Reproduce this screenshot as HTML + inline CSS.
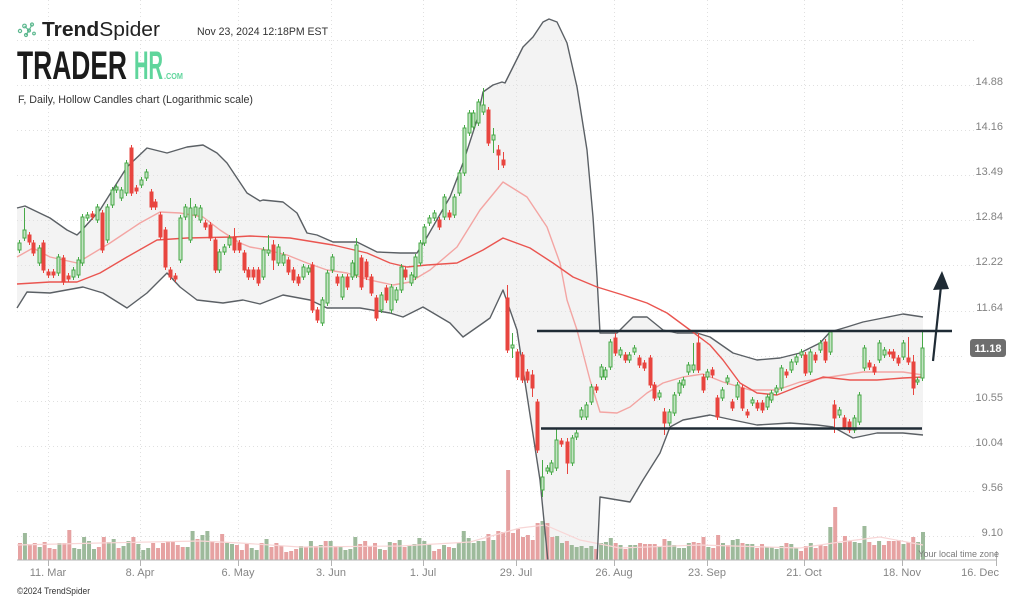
<!DOCTYPE html>
<html><head><meta charset="utf-8">
<style>
html,body{margin:0;padding:0;background:#fff;}
body{width:1024px;height:599px;overflow:hidden;}
svg{display:block;font-family:"Liberation Sans",Arial,sans-serif;}
</style></head><body>
<svg id="s" width="1024" height="599" viewBox="0 0 1024 599" xmlns="http://www.w3.org/2000/svg">
<defs><clipPath id="pc"><rect x="0" y="0" width="1000" height="560"/></clipPath></defs>

<g clip-path="url(#pc)">
  <polygon id="band" fill="#f3f3f3" stroke="none"/>
</g>

<g id="grid" stroke="#e0e0e0" stroke-width="1" stroke-dasharray="1,3" fill="none">
  <line x1="17" y1="40.5" x2="975" y2="40.5"/>
  <line x1="17" y1="85.5" x2="975" y2="85.5"/>
  <line x1="17" y1="130.5" x2="975" y2="130.5"/>
  <line x1="17" y1="175.5" x2="975" y2="175.5"/>
  <line x1="17" y1="220.5" x2="975" y2="220.5"/>
  <line x1="17" y1="265.5" x2="975" y2="265.5"/>
  <line x1="17" y1="311.5" x2="975" y2="311.5"/>
  <line x1="17" y1="356.5" x2="965" y2="356.5"/>
  <line x1="17" y1="401.5" x2="975" y2="401.5"/>
  <line x1="17" y1="446.5" x2="975" y2="446.5"/>
  <line x1="17" y1="491.5" x2="975" y2="491.5"/>
  <line x1="17" y1="536.5" x2="975" y2="536.5"/>
  <line x1="48.5" y1="0" x2="48.5" y2="560"/>
  <line x1="140.5" y1="0" x2="140.5" y2="560"/>
  <line x1="238.5" y1="0" x2="238.5" y2="560"/>
  <line x1="331.5" y1="0" x2="331.5" y2="560"/>
  <line x1="423.5" y1="0" x2="423.5" y2="560"/>
  <line x1="516.5" y1="0" x2="516.5" y2="560"/>
  <line x1="614.5" y1="0" x2="614.5" y2="560"/>
  <line x1="707.5" y1="0" x2="707.5" y2="560"/>
  <line x1="804.5" y1="0" x2="804.5" y2="560"/>
  <line x1="902.5" y1="0" x2="902.5" y2="560"/>
</g>

<g clip-path="url(#pc)">
  <g id="vol"></g>
  <polyline id="vma" fill="none" stroke="#f8d6d6" stroke-width="1.2"/>
  <polyline id="up" fill="none" stroke="#5b6065" stroke-width="1.4" stroke-linejoin="round"/>
  <polyline id="lo" fill="none" stroke="#5b6065" stroke-width="1.4" stroke-linejoin="round"/>
  <polyline id="ma20" fill="none" stroke="#f3a5a3" stroke-width="1.4" stroke-linejoin="round"/>
  <polyline id="ma50" fill="none" stroke="#ea5550" stroke-width="1.4" stroke-linejoin="round"/>
  <g id="cdl"></g>
</g>

<!-- x axis -->
<line x1="17" y1="560" x2="997" y2="560" stroke="#b3b3b3" stroke-width="1"/>
<g stroke="#b3b3b3" stroke-width="1">
  <line x1="48.5" y1="560" x2="48.5" y2="566"/>
  <line x1="140.5" y1="560" x2="140.5" y2="566"/>
  <line x1="238.5" y1="560" x2="238.5" y2="566"/>
  <line x1="331.5" y1="560" x2="331.5" y2="566"/>
  <line x1="423.5" y1="560" x2="423.5" y2="566"/>
  <line x1="516.5" y1="560" x2="516.5" y2="566"/>
  <line x1="614.5" y1="560" x2="614.5" y2="566"/>
  <line x1="707.5" y1="560" x2="707.5" y2="566"/>
  <line x1="804.5" y1="560" x2="804.5" y2="566"/>
  <line x1="902.5" y1="560" x2="902.5" y2="566"/>
  <line x1="996.5" y1="551" x2="996.5" y2="566"/>
</g>
<g font-size="11" fill="#858585" text-anchor="middle">
  <text x="48" y="576">11. Mar</text>
  <text x="140" y="576">8. Apr</text>
  <text x="238" y="576">6. May</text>
  <text x="331" y="576">3. Jun</text>
  <text x="423" y="576">1. Jul</text>
  <text x="516" y="576">29. Jul</text>
  <text x="614" y="576">26. Aug</text>
  <text x="707" y="576">23. Sep</text>
  <text x="804" y="576">21. Oct</text>
  <text x="902" y="576">18. Nov</text>
  <text x="999" y="576" text-anchor="end">16. Dec</text>
</g>
<text x="999" y="557" font-size="9" fill="#7a7a7a" text-anchor="end">Your local time zone</text>

<!-- y axis labels -->
<g font-size="11" fill="#828282" text-anchor="end">
  <text x="1003" y="85">14.88</text>
  <text x="1003" y="130">14.16</text>
  <text x="1003" y="175">13.49</text>
  <text x="1003" y="220">12.84</text>
  <text x="1003" y="265">12.22</text>
  <text x="1003" y="311">11.64</text>
  <text x="1003" y="401">10.55</text>
  <text x="1003" y="446">10.04</text>
  <text x="1003" y="491">9.56</text>
  <text x="1003" y="536">9.10</text>
</g>
<rect x="970" y="339" width="36" height="18" rx="3" ry="3" fill="#6e6e6e"/>
<text x="988" y="352" font-size="11" font-weight="bold" fill="#ffffff" text-anchor="middle">11.18</text>

<!-- annotations -->
<line x1="537" y1="331" x2="952" y2="331" stroke="#1f2b35" stroke-width="2.5"/>
<line x1="541" y1="428.5" x2="922" y2="428.5" stroke="#1f2b35" stroke-width="2.5"/>
<line x1="933" y1="361" x2="941" y2="286" stroke="#1f2b35" stroke-width="2.2"/>
<polygon points="942,271 933,290 949,289" fill="#1f2b35"/>

<!-- header -->
<g fill="none" stroke="#5cb88f" stroke-width="1.2">
  <circle cx="20" cy="31" r="1.6"/>
  <circle cx="24.5" cy="26" r="1.8"/>
  <circle cx="29" cy="30.5" r="1.5"/>
  <circle cx="32" cy="24.5" r="1.5"/>
  <circle cx="26" cy="35" r="1.5"/>
  <circle cx="34" cy="33.5" r="1.3"/>
  <line x1="24.5" y1="26" x2="29" y2="30.5"/>
  <line x1="29" y1="30.5" x2="32" y2="24.5"/>
  <line x1="29" y1="30.5" x2="26" y2="35"/>
</g>
<text x="42" y="36" font-size="20" fill="#222" textLength="118" lengthAdjust="spacingAndGlyphs"><tspan font-weight="bold">Trend</tspan>Spider</text>
<text x="197" y="35" font-size="11" fill="#333" textLength="131" lengthAdjust="spacingAndGlyphs">Nov 23, 2024 12:18PM EST</text>
<text x="17" y="79" font-size="40" font-weight="bold" fill="#1b1b1b" textLength="110" lengthAdjust="spacingAndGlyphs">TRADER</text>
<text x="134" y="79" font-size="40" font-weight="bold" fill="#5fd59c" textLength="29" lengthAdjust="spacingAndGlyphs">HR</text>
<text x="164" y="79" font-size="8" font-weight="bold" fill="#5fd59c" textLength="19" lengthAdjust="spacingAndGlyphs">.COM</text>
<text x="18" y="103" font-size="11" fill="#333" textLength="235" lengthAdjust="spacingAndGlyphs">F, Daily, Hollow Candles chart (Logarithmic scale)</text>
<text x="17" y="594" font-size="9" fill="#333" textLength="73" lengthAdjust="spacingAndGlyphs">©2024 TrendSpider</text>
</svg>
<script>
(function(){
var NS="http://www.w3.org/2000/svg";
function el(tag,a,p){var e=document.createElementNS(NS,tag);for(var k in a)e.setAttribute(k,a[k]);p.appendChild(e);return e;}
function pts(a){var s=[];for(var i=0;i<a.length;i+=2)s.push(a[i]+","+a[i+1]);return s;}
var UP=[17,208,25,206,50,218,67,230,77,235,82,230,100,210,127,167,147,148,167,153,187,147,203,145,217,153,227,163,247,193,260,201,263,200,283,202,297,213,307,233,317,235,333,242,357,242,377,252,400,253,417,253,427,237,450,197,463,163,477,120,483,92,493,85,502,82,505,83,513,67,523,47,533,37,543,22,549,19,557,22,567,43,577,87,587,150,593,217,597,277,600,333,617,333,633,317,647,317,663,330,677,333,697,333,710,337,733,353,757,360,780,358,800,353,820,343,830,332,847,327,863,322,883,318,903,314,923,317];
var LO=[17,308,27,292,50,293,83,287,103,293,127,308,147,293,167,273,180,287,197,300,223,303,243,300,260,304,283,295,310,300,327,308,360,308,390,313,403,317,423,307,450,323,463,337,483,323,490,318,503,290,517,330,540,480,548,562,552,600,594,600,597,562,600,497,630,502,643,480,660,453,670,427,683,420,710,415,733,420,757,425,790,423,817,425,833,427,853,438,877,433,903,433,923,435];
var M20=[17,257,33,248,50,257,77,263,110,243,140,223,160,212,180,213,203,217,220,230,240,243,250,247,267,250,287,255,307,263,327,270,347,273,370,280,393,285,410,282,430,270,457,247,480,210,503,182,527,197,547,227,560,263,567,300,577,330,590,380,600,412,617,413,630,407,647,393,663,383,683,377,703,374,723,382,750,390,777,390,800,382,830,377,863,372,903,372,923,375];
var M50=[17,284,50,282,77,282,100,273,127,257,157,240,187,238,233,237,250,236,290,238,333,245,367,253,390,263,407,267,427,265,457,263,483,250,503,238,530,248,553,263,573,277,597,287,623,295,647,303,667,313,690,330,710,345,723,360,740,383,757,393,777,395,797,387,823,377,850,380,877,380,903,378,923,377];
var VMA=[17,545,100,543,200,541,240,543,300,547,400,546,470,542,520,528,545,525,580,540,620,548,700,545,800,548,840,542,880,537,923,545];
var up=pts(UP), lo=pts(LO);
document.getElementById('band').setAttribute('points',up.concat(lo.slice().reverse()).join(' '));
document.getElementById('up').setAttribute('points',up.join(' '));
document.getElementById('lo').setAttribute('points',lo.join(' '));
document.getElementById('ma20').setAttribute('points',pts(M20).join(' '));
document.getElementById('ma50').setAttribute('points',pts(M50).join(' '));
document.getElementById('vma').setAttribute('points',pts(VMA).join(' '));

var vg=document.getElementById('vol');
var VA="r543 g533 r544 r543 g547 r542 r548 r549 g543 r543 r530 g548 g549 g537 g541 g549 r547 r537 g542 g539 r548 g546 g541 r537 g544 g550 g548 r543 r548 r543 r541 r541 r545 r547 g547 g531 r539 g535 g531 r541 r543 r534 g543 g544 r545 r550 r544 g548 g550 r543 g539 r547 r543 r546 r552 r551 r549 g546 r547 g541 r546 g545 r541 g541 r546 g546 g550 g549 g537 r544 r541 r546 r543 g549 r550 g542 r543 g540 r547 g546 g544 g538 g541 g544 r551 r549 g545 r547 g548 g543 g531 g538 g543 g541 g541 r534 g540 r531 r532 r470 r533 r529".split(" ");
var VB="r537 r535 r540 r523 g521 r523 r537 g536 g543 r541 g545 g547 g546 g548 g546 r549 g543 g542 g538 r543 g545 r549 g545 g545 r543 r544 r544 r544 g547 r539 g541 g545 g548 g548 g543 r542 r543 r537 g547 r548 r535 g543 r545 g540 g539 r543 g544 g544 r548 r544 g547 g547 g549 g546 r543 g544 g548 r551 r546 g543 r548 r545 r546 g527 r507 g543 r536 r541 g542 g543 g526 r542 r545 g541 r545 r541 r541 r540 g544 r542 r537 g542 g532".split(" ");
function vbar(x,s){var c=s[0],t=parseFloat(s.slice(1));el('rect',{x:(x-2).toFixed(2),y:t,width:4,height:560-t,fill:c=='g'?'#9dba9b':'#e6a2a2'},vg);}
var stepA=(518-20)/(VA.length-1);
VA.forEach(function(s,i){vbar(20+i*stepA,s);});
var stepB=(923-523)/(VB.length-1);
VB.forEach(function(s,i){vbar(523+i*stepB,s);});

var C=[
[19,'g',243,250],[24,'g',230,238,208],[29,'r',235,242],[33,'r',243,253],[39,'g',248,263],[43,'r',243,270],[48,'r',272,275],[53,'r',272,275],[58,'g',257,273],[63,'r',258,282],[68,'r',276,279],[73,'g',270,277],[78,'g',260,275],[82,'g',217,263],[87,'g',215,218],[92,'r',214,217],[97,'g',207,220],[102,'r',213,250],[107,'g',207,240],[112,'g',190,205],[116,'g',187,190],[121,'g',190,198],[126,'g',163,193],[131,'r',148,193,145],[136,'r',188,191],[141,'g',180,185],[146,'g',172,178],[151,'r',192,207],[155,'r',202,207],[160,'r',215,237],[165,'r',230,267],[170,'r',270,277],[175,'r',276,279],[180,'g',218,260],[185,'g',207,217],[190,'g',208,240,198],[195,'g',207,215],[200,'g',208,220],[205,'r',223,227],[210,'r',225,238],[215,'r',240,270],[219,'g',252,270],[224,'g',247,252],[229,'g',238,245],[234,'r',237,250,228],[239,'r',243,250],[244,'r',253,270],[248,'r',270,277],[253,'r',270,277],[258,'r',270,283],
[263,'g',250,277],[268,'g',250,253,235],[273,'r',245,260,240,270],[278,'g',247,263],[283,'g',255,263],[288,'r',260,272],[293,'r',270,280],[298,'r',277,283],[303,'g',267,277],[308,'g',268,272],[312,'r',265,310],[317,'r',310,320],[322,'g',300,323],[327,'g',273,303],[332,'g',257,270],[337,'r',277,283],[342,'g',277,297],[347,'r',277,287],[352,'g',263,277],[356,'g',245,275,238],[361,'r',258,287],[366,'r',262,277],[371,'r',277,293],[376,'r',298,318],[381,'g',295,310],[386,'r',288,300],[391,'g',287,310],[396,'g',290,300],[401,'g',267,290],[405,'r',270,277],[411,'g',275,283],[415,'g',257,277],[420,'g',243,263],[424,'g',227,243],[429,'g',218,223],[434,'g',213,218],[439,'r',220,227],[444,'g',197,217],[449,'r',213,217],[454,'g',197,215],[459,'g',173,193],[464,'g',128,173],[469,'g',113,133],[473,'g',113,127],[478,'g',102,123],[483,'g',105,112,88],[488,'r',110,143],[493,'g',135,140,128,153],[498,'r',150,155,145,170],[503,'r',160,165,152,168],
[507,'r',298,350,285],[512,'g',345,348,333,358],[517,'r',352,377],[522,'r',355,380],[527,'r',372,380],[532,'r',375,388,370,397],[537,'r',402,450],[542,'g',477,490,460,497],[547,'g',468,471],[551,'g',463,472],[556,'g',440,468,428],[561,'r',441,444],[567,'r',442,463,438,474],[572,'g',438,463],[576,'g',433,437],[581,'g',410,417],[586,'g',405,417],[591,'g',387,402],[596,'r',387,390],[601,'g',367,377],[605,'g',370,377],[610,'g',342,367],[615,'r',338,353,333],[620,'g',350,355],[625,'r',355,360],[629,'g',355,360],[634,'g',348,352],[639,'r',358,365],[644,'r',363,368],[650,'r',358,385],[654,'r',385,398],[659,'g',393,397],[664,'r',412,423,408,435],[669,'g',412,423],[674,'g',395,413],[679,'g',383,393],[683,'g',380,385],[688,'g',365,372],
[693,'g',365,370,343],[698,'r',343,370,333],[703,'r',377,390],[707,'g',372,377],[712,'r',370,375],[717,'r',398,417],[722,'g',390,398],[727,'g',378,382],[732,'r',402,408],[737,'g',385,397],[742,'r',388,408],[747,'r',412,415],[752,'g',400,403],[757,'r',403,408],[762,'r',403,410],[767,'g',397,407],[771,'g',393,400],[776,'g',388,392],[781,'g',368,388],[786,'r',372,375],[791,'g',362,370],[796,'g',357,362],[801,'g',352,355],[805,'r',355,373],[810,'g',352,372],[815,'r',355,360],[820,'g',343,350],[825,'r',342,360],[830,'g',332,352,330],[834,'r',405,418,400,433],[839,'g',410,415],[844,'r',418,427],[849,'r',422,430],[854,'g',418,430],[859,'g',395,422],[864,'g',348,368],[869,'r',363,367],[874,'r',367,372],[879,'g',343,360],[884,'g',350,355],[889,'r',352,354],[893,'r',352,358],[898,'r',358,363],[903,'g',343,357],[908,'r',358,362,337],[913,'r',362,388,355,395],[917,'g',380,382],[922,'g',348,378,332]
];
var cg=document.getElementById('cdl');
C.forEach(function(c){
  var x=c[0],g=c[1]=='g',t=c[2],b=c[3];
  var wt=(c[4]!==undefined)?c[4]:t-3, wb=(c[5]!==undefined)?c[5]:b+3;
  var clr=g?'#47a947':'#e8453f';
  el('line',{x1:x+0.5,x2:x+0.5,y1:wt,y2:wb,stroke:clr,'stroke-width':1},cg);
  var h=Math.max(b-t,1.5);
  el('rect',{x:x-1,y:t,width:3,height:h,fill:g?'#c3e3c3':clr,stroke:clr,'stroke-width':1},cg);
});
})();
</script>
</body></html>
